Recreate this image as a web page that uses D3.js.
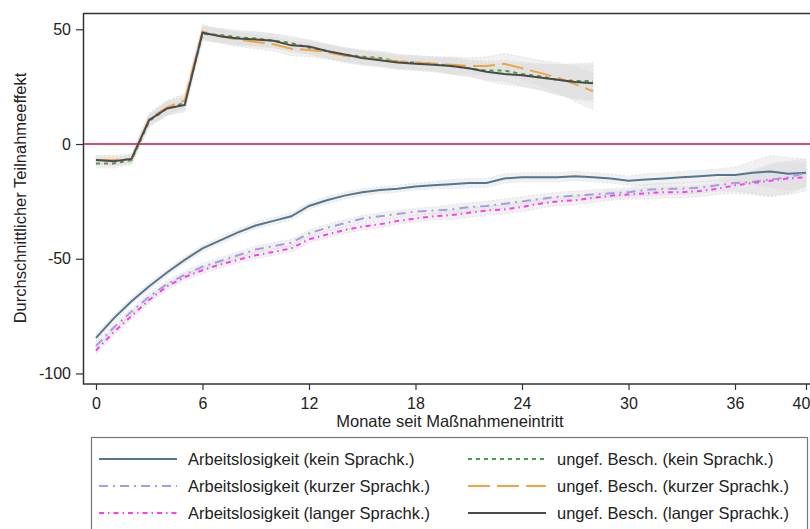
<!DOCTYPE html>
<html>
<head>
<meta charset="utf-8">
<script src="https://cdn.jsdelivr.net/npm/d3@7"></script>
<style>
  body { margin: 0; background: #fff; }
  text { font-family: "Liberation Sans", Arial, sans-serif; fill: #222; }
</style>
</head>
<body>
<script>
// Monate seit Maßnahmeneintritt
let monateUngef = d3.range(0, 29);
let monateArbeit = d3.range(0, 41);

// ungef. Beschäftigung (obere Kurven)
let ungefKein = [-8.5, -8.5, -7, 10, 15.5, 18, 48, 47.5, 46.5, 46, 45, 44, 42, 40.5, 39, 38, 37.5, 36, 35.5, 35, 34, 33, 32, 32, 30.5, 29.5, 28, 27.5, 27.5];
let ungefKurz = [-7, -7, -6.5, 11, 16, 19, 49, 47, 45.5, 44.5, 43.5, 41.5, 41, 40, 38.5, 37.5, 37, 36, 35.5, 35, 34.5, 34, 34, 35, 33, 31, 29, 26, 23];
let ungefLang = [-7, -7.5, -6.5, 10.5, 15.5, 17, 48.5, 47, 46, 45.5, 45, 43, 42.5, 40.5, 39, 37.5, 36.5, 35.5, 35, 34.5, 34, 33, 31.5, 30.5, 30, 29, 28, 27, 26.5];

// Arbeitslosigkeit (untere Kurven)
let arbeitKein = [-84.5, -76, -68.5, -62, -56, -50.5, -45.5, -42, -38.5, -35.5, -33.5, -31.5, -27, -24.5, -22.5, -21, -20, -19.5, -18.5, -18, -17.5, -17, -17, -15, -14.5, -14.5, -14.5, -14, -14.5, -15, -16, -15.5, -15, -14.5, -14, -13.5, -13.5, -12.5, -12, -13, -12.5];
let arbeitKurz = [-88, -80, -73, -66.5, -61, -57, -53.5, -51, -48.5, -46, -44.5, -43, -39, -36.5, -34.5, -32.5, -31.5, -30.5, -29.5, -29, -28.5, -27.5, -27, -26, -25, -24, -23, -22.5, -22, -21.5, -21, -20, -19.5, -19.5, -19, -18, -17, -16.5, -15.5, -14.5, -12.5];
let arbeitLang = [-90, -82, -75, -68, -62, -58, -55, -52.5, -50.5, -48.5, -47, -45.5, -41.5, -39.5, -37.5, -36, -35, -33.5, -32.5, -31.5, -31, -30, -29, -28.5, -27.5, -26, -25, -24.5, -23.5, -22.5, -22, -21.5, -21, -21, -20.5, -19.5, -18, -17, -16, -15, -14.5];

// halbe Breite der Konfidenzbänder
let ciUngef = [2, 2, 2, 2.5, 3, 3, 3, 3, 3, 3, 3, 3, 3, 3, 3, 3, 3, 3, 3, 3, 3.5, 3.5, 4, 4.5, 5, 5.5, 6.5, 7.5, 8];
let ciArbeit = [1.5, 1.5, 1.5, 1.5, 1.5, 1.5, 1.5, 1.5, 1.5, 1.5, 1.5, 1.5, 1.5, 1.5, 1.5, 1.5, 1.5, 1.5, 1.5, 1.5, 2, 2, 2, 2, 2, 2, 2, 2, 2, 2, 2, 2.5, 2.5, 2.5, 2.5, 2.5, 3.5, 5, 7, 7, 6];

let xTicks = [0, 6, 12, 18, 24, 30, 36, 40];
let yTicks = [50, 0, -50, -100];

let legendLabels = [
  "Arbeitslosigkeit (kein Sprachk.)", "Arbeitslosigkeit (kurzer Sprachk.)", "Arbeitslosigkeit (langer Sprachk.)",
  "ungef. Besch. (kein Sprachk.)", "ungef. Besch. (kurzer Sprachk.)", "ungef. Besch. (langer Sprachk.)"
];

let series = [
  { x: monateArbeit, y: arbeitKein, ci: ciArbeit, color: "#557690", dash: null, w: 2 },
  { x: monateArbeit, y: arbeitKurz, ci: ciArbeit, color: "#a79ddb", dash: "9,5,2,5", w: 2 },
  { x: monateArbeit, y: arbeitLang, ci: ciArbeit, color: "#ff3cf5", dash: "5,4,1.5,4", w: 2 },
  { x: monateUngef, y: ungefKein, ci: ciUngef, color: "#4c9a4c", dash: "4,4", w: 2 },
  { x: monateUngef, y: ungefKurz, ci: ciUngef, color: "#f0a545", dash: "22,7", w: 2 },
  { x: monateUngef, y: ungefLang, ci: ciUngef, color: "#4a4a4a", dash: null, w: 2 }
];

let svg = d3.select("body").append("svg")
  .attr("width", 810).attr("height", 529);

let x = d3.scaleLinear().domain([0, 40]).range([96, 806]);
let y = d3.scaleLinear().domain([-104.6, 57.1]).range([384, 13]);

// Rahmen
svg.append("rect")
  .attr("x", 83.5).attr("y", 13.5)
  .attr("width", 740).attr("height", 370.5)
  .attr("fill", "none").attr("stroke", "#333").attr("stroke-width", 1.5);

// Konfidenzbänder
let area = d3.area()
  .x(d => x(d.m))
  .y0(d => y(d.v - d.c))
  .y1(d => y(d.v + d.c));

series.forEach(function (s) {
  let pts = s.x.map((m, i) => ({ m: m, v: s.y[i], c: s.ci[i] }));
  svg.append("path")
    .attr("d", area(pts))
    .attr("fill", "#d8d8d8")
    .attr("fill-opacity", 0.35)
    .attr("stroke", "#e4e4e4")
    .attr("stroke-width", 1)
    .attr("stroke-dasharray", "2,2");
});

// Nulllinie
svg.append("line")
  .attr("x1", 84).attr("x2", 810)
  .attr("y1", y(0)).attr("y2", y(0))
  .attr("stroke", "#d4506c").attr("stroke-width", 1.8);

let line = d3.line()
  .x(d => x(d.m))
  .y(d => y(d.v));

series.forEach(function (s) {
  let pts = s.x.map((m, i) => ({ m: m, v: s.y[i] }));
  svg.append("path")
    .attr("d", line(pts))
    .attr("fill", "none")
    .attr("stroke", s.color)
    .attr("stroke-width", s.w)
    .attr("stroke-dasharray", s.dash);
});

// Achsen
let xAxis = svg.append("g")
  .attr("transform", "translate(0,384)")
  .call(d3.axisBottom(x).tickValues(xTicks).tickFormat(d => String(d)).tickSize(6).tickPadding(8));
xAxis.select(".domain").remove();
xAxis.selectAll("line").attr("stroke", "#333").attr("stroke-width", 1.2);
xAxis.selectAll("text").style("font-size", "16px").style("font-family", "Liberation Sans, Arial, sans-serif").attr("fill", "#222");
// letzte Beschriftung etwas einrücken, damit sie nicht abgeschnitten wird
xAxis.selectAll("text").filter(d => d === 40).attr("dx", "-5");

let yAxis = svg.append("g")
  .attr("transform", "translate(83,0)")
  .call(d3.axisLeft(y).tickValues(yTicks).tickFormat(d => String(d)).tickSize(7).tickPadding(5));
yAxis.select(".domain").remove();
yAxis.selectAll("line").attr("stroke", "#333").attr("stroke-width", 1.2);
yAxis.selectAll("text").style("font-size", "16px").style("font-family", "Liberation Sans, Arial, sans-serif").attr("fill", "#222");

svg.append("text")
  .attr("x", 450).attr("y", 427)
  .attr("text-anchor", "middle")
  .style("font-size", "16.5px")
  .text("Monate seit Maßnahmeneintritt");

svg.append("text")
  .attr("transform", "translate(26,198) rotate(-90)")
  .attr("text-anchor", "middle")
  .style("font-size", "16.5px")
  .text("Durchschnittlicher Teilnahmeeffekt");

// Legende
svg.append("rect")
  .attr("x", 91.5).attr("y", 437.5)
  .attr("width", 716).attr("height", 100)
  .attr("fill", "#fff").attr("stroke", "#777").attr("stroke-width", 1.2);

let legendRows = [459, 486, 513];
series.forEach(function (s, i) {
  let col = Math.floor(i / 3), row = i % 3;
  let x0 = col === 0 ? 99 : 468;
  let ly = legendRows[row];
  svg.append("line")
    .attr("x1", x0).attr("x2", x0 + 78)
    .attr("y1", ly).attr("y2", ly)
    .attr("stroke", s.color).attr("stroke-width", s.w)
    .attr("stroke-dasharray", s.dash);
  svg.append("text")
    .attr("x", x0 + 89).attr("y", ly + 5.5)
    .style("font-size", "16.5px")
    .text(legendLabels[i]);
});
</script>
</body>
</html>
